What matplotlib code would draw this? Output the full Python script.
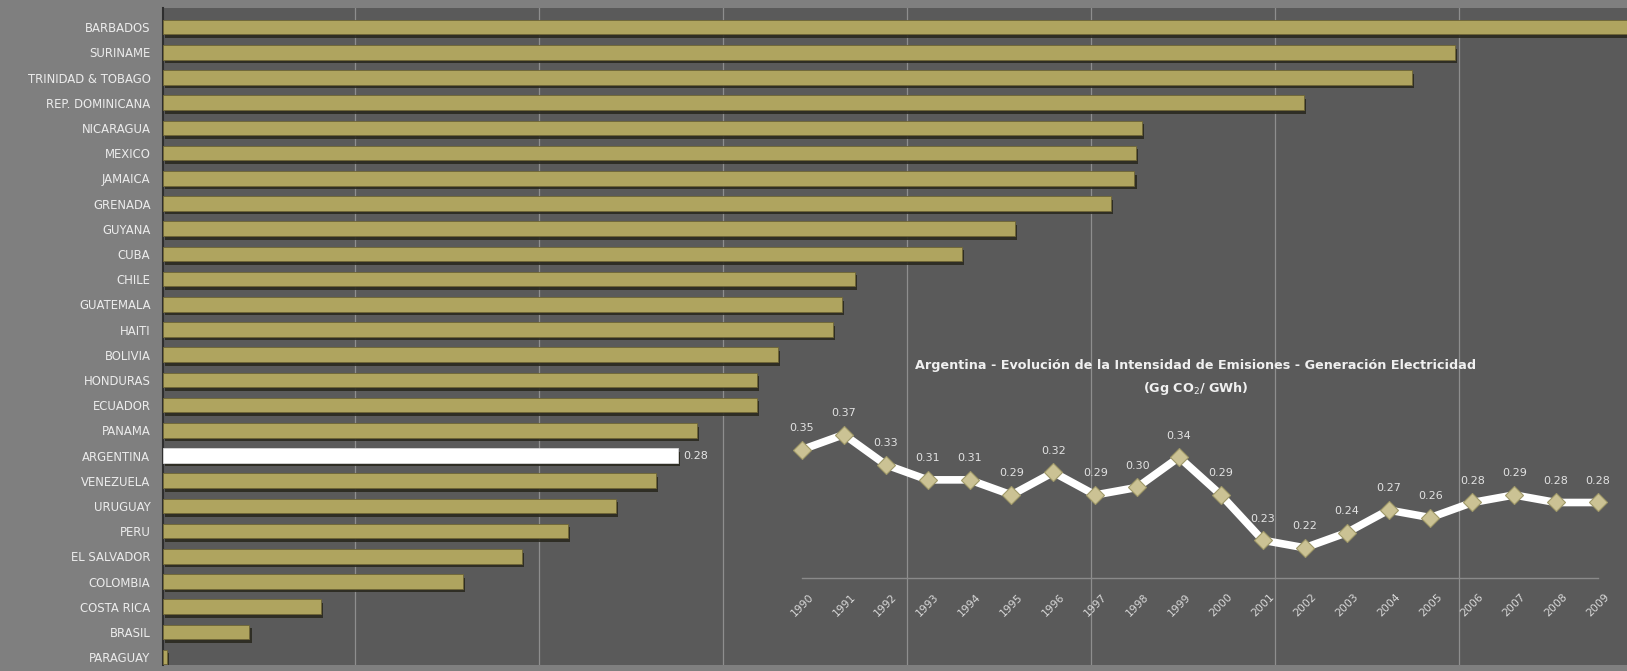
import matplotlib
matplotlib.use("Agg")
import matplotlib.pyplot as plt
import matplotlib.patheffects as pe

countries = ["BARBADOS", "SURINAME", "TRINIDAD & TOBAGO", "REP. DOMINICANA", "NICARAGUA",
             "MEXICO", "JAMAICA", "GRENADA", "GUYANA", "CUBA", "CHILE", "GUATEMALA", "HAITI",
             "BOLIVIA", "HONDURAS", "ECUADOR", "PANAMA", "ARGENTINA", "VENEZUELA", "URUGUAY",
             "PERU", "EL SALVADOR", "COLOMBIA", "COSTA RICA", "BRASIL", "PARAGUAY"]
values = [0.82, 0.702, 0.679, 0.620, 0.532, 0.529, 0.528, 0.515, 0.463, 0.434, 0.376,
          0.369, 0.364, 0.334, 0.323, 0.323, 0.290, 0.28, 0.268, 0.246, 0.220, 0.195,
          0.163, 0.086, 0.047, 0.002]
highlight = "ARGENTINA"
highlight_label = "0.28"
grid_values = [0.1, 0.2, 0.3, 0.4, 0.5, 0.6, 0.7]

years = [str(y) for y in range(1990, 2010)]
intensity = [0.35, 0.37, 0.33, 0.31, 0.31, 0.29, 0.32, 0.29, 0.30, 0.34,
             0.29, 0.23, 0.22, 0.24, 0.27, 0.26, 0.28, 0.29, 0.28, 0.28]
inset_title = "Argentina - Evolución de la Intensidad de Emisiones - Generación Electricidad\n(Gg CO$_2$/ GWh)"

W, H = 1627, 671
fig = plt.figure(figsize=(W / 100, H / 100), dpi=100)
fig.patch.set_facecolor("#7f7f7f")

# main axes
top_px, bot_px, left_px = 8, 665, 163
ax = fig.add_axes([left_px / W, (H - bot_px) / H, 1 - left_px / W, (bot_px - top_px) / H])
ax.set_facecolor("#5a5a5a")
n = len(countries)
ypos = list(range(n))
colors = ["#ffffff" if c == highlight else "#afa45f" for c in countries]
bars = ax.barh(ypos, values, height=0.58, color=colors, edgecolor="#6e6535", linewidth=0.6, zorder=3)
for b, c in zip(bars, countries):
    if c == highlight:
        b.set_edgecolor("#d8d8d8")
    b.set_path_effects([pe.SimplePatchShadow(offset=(1.5, -2.5), shadow_rgbFace="#2b2a20", alpha=0.9),
                        pe.Normal()])
ax.set_ylim(24.31 + (n - 25), -0.76)
ax.set_xlim(0, 0.7957)
# back-wall gridlines (3D depth shift of the original chart)
depth = 0.0045
for g in grid_values:
    ax.axvline(g + depth, color="#8e8e8e", linewidth=0.9, zorder=0)
ax.tick_params(axis="x", bottom=False, labelbottom=False)
ax.set_yticks(ypos)
ax.set_yticklabels(countries, fontsize=8.4, color="#ececec", family=["DejaVu Sans"])
ax.tick_params(axis="y", length=0, pad=9)
for s in ["top", "right", "bottom"]:
    ax.spines[s].set_visible(False)
ax.spines["left"].set_color("#2e2e2e")
ax.spines["left"].set_linewidth(1.5)
hi = countries.index(highlight)
ax.text(values[hi] + 0.003, hi, highlight_label, va="center", ha="left", fontsize=8,
        color="#e6e6e6", family=["DejaVu Sans"], zorder=5)

# inset line chart
il, ir, ib, it = 802, 1598, 578, 427
ax2 = fig.add_axes([il / W, (H - ib) / H, (ir - il) / W, (ib - it) / H])
ax2.patch.set_alpha(0)
ax2.set_xlim(0, len(years) - 1)
ax2.set_ylim(0.18, 0.38)
xs = list(range(len(years)))
ax2.plot(xs, intensity, color="#ffffff", linewidth=5.5, zorder=3, solid_joinstyle="miter", clip_on=False)
ax2.plot(xs, intensity, linestyle="none", marker="D", markersize=9.5, markerfacecolor="#cbc294",
         markeredgecolor="#9f9868", markeredgewidth=0.8, zorder=4, clip_on=False)
for x, v in zip(xs, intensity):
    ax2.annotate(f"{v:.2f}", (x, v), xytext=(0, 12), textcoords="offset points", ha="center",
                 va="bottom", fontsize=8, color="#e2e2e2", family=["DejaVu Sans"])
ax2.set_xticks(xs)
ax2.set_xticklabels(years, rotation=45, ha="center", va="top", fontsize=7.8, color="#d8d8d8",
                    family=["DejaVu Sans"])
ax2.tick_params(axis="x", length=0, pad=10)
ax2.set_yticks([])
for s in ["top", "right", "left"]:
    ax2.spines[s].set_visible(False)
ax2.spines["bottom"].set_color("#8a8a8a")
ax2.spines["bottom"].set_linewidth(1)

fig.text(1196 / W, (H - 378) / H, inset_title, ha="center", va="center", fontsize=9.2,
         fontweight="bold", color="#f0f0f0", family=["DejaVu Sans"], linespacing=1.6)

fig.savefig("out.png", dpi=100, facecolor=fig.get_facecolor())
